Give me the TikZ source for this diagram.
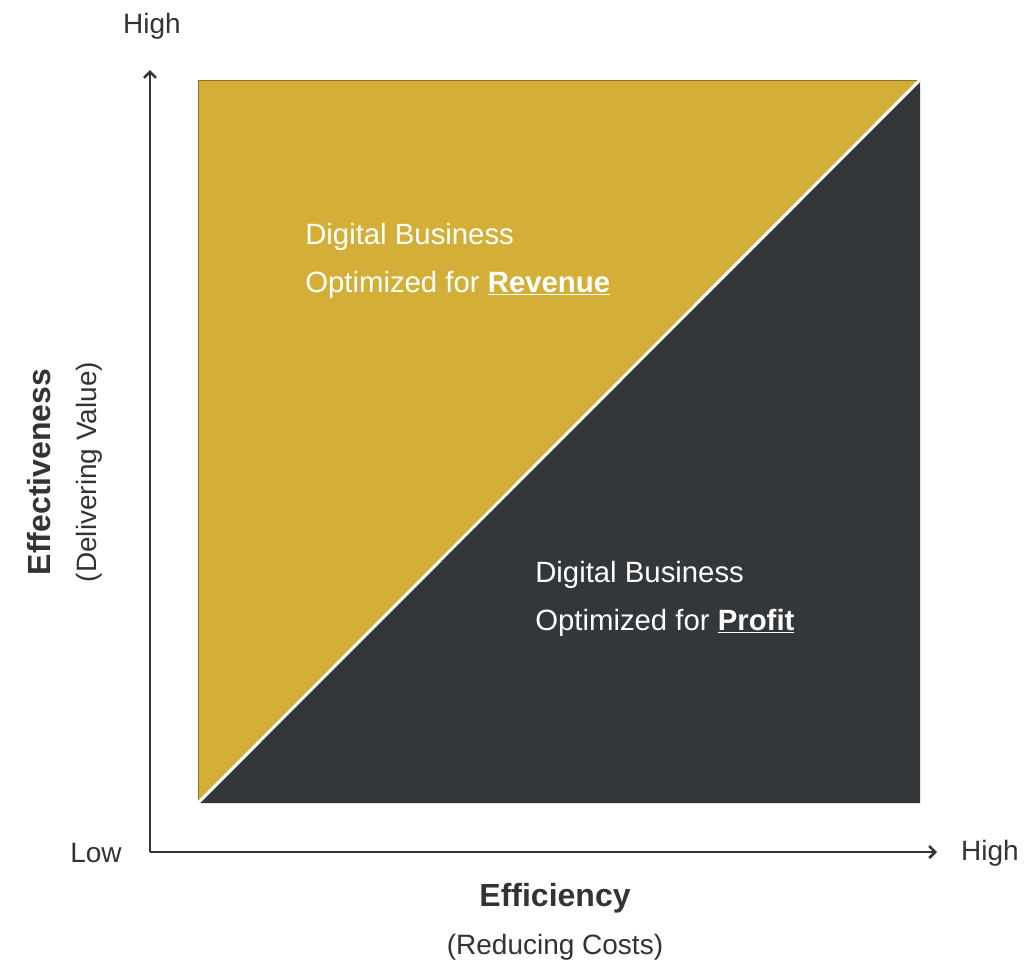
\documentclass[tikz,border=0pt]{standalone}
\usepackage{fontspec}
\setmainfont{Liberation Sans}
\usepackage{xcolor}
\usetikzlibrary{arrows.meta}

\definecolor{gold}{HTML}{D4AF37}
\definecolor{slate}{HTML}{33373A}
\definecolor{axisgray}{HTML}{333333}

\begin{document}
\begin{tikzpicture}[x=0.75pt,y=-0.75pt,
    axis/.style={draw=axisgray, line width=1.9pt, -{Straight Barb[length=4.5pt,width=9pt]}},
    lbl/.style={text=axisgray, font=\fontsize{21}{25}\selectfont, inner sep=0pt},
    head/.style={text=axisgray, font=\fontsize{24}{28}\selectfont\bfseries, inner sep=0pt},
    blk/.style={text=white, align=left, anchor=west, inner sep=0pt,
        font=\fontsize{22}{36}\selectfont}]
    \useasboundingbox (0,0) rectangle (1026,965);

    % corners of the square
    \coordinate (sw) at (198,803);
    \coordinate (nw) at (198,80);
    \coordinate (ne) at (920,80);
    \coordinate (se) at (920,803);

    \fill[slate] (sw) -- (ne) -- (se) -- cycle;
    \fill[gold] (sw) -- (nw) -- (ne) -- cycle;
    \draw[gold!65!black, line width=0.6pt] (sw) -- (nw) -- (ne);
    \draw[white, line width=2.2pt] (sw) -- (ne);

    % axes
    \coordinate (origin) at (150,852);
    \coordinate (ytop) at (150,70);
    \coordinate (xend) at (937,852);
    \draw[axis] (origin) -- (ytop);
    \draw[axis] (origin) -- (xend);

    \node[lbl] (yhigh) at (152,26) {High};
    \node[lbl] (xlow) at (96,853) {Low};
    \node[lbl] (xhigh) at (990,853) {High};

    \node[head] (xname) at (555,898) {Efficiency};
    \node[lbl] (xsub) at (555,947) {(Reducing Costs)};
    \node[head, rotate=90] (yname) at (39,472) {Effectiveness};
    \node[lbl, rotate=90] (ysub) at (89,472) {(Delivering Value)};

    \node[blk] (revenue) at (305,261) {Digital Business\\Optimized for \underline{\textbf{Revenue}}};
    \node[blk] (profit) at (535,599) {Digital Business\\Optimized for \underline{\textbf{Profit}}};
\end{tikzpicture}
\end{document}
